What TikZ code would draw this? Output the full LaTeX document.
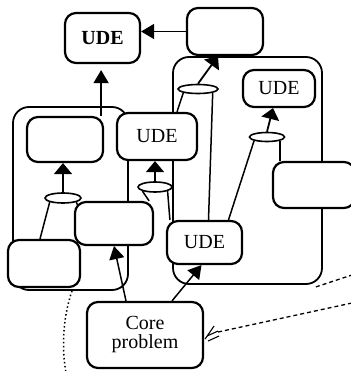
\documentclass[tikz,border=0pt]{standalone}
\usepackage{fontspec}
\setmainfont{Liberation Serif}
\usetikzlibrary{arrows.meta,shapes.geometric,calc}
\begin{document}
\begin{tikzpicture}[x=1pt,y=-1pt,
  box/.style={draw, rounded corners=11pt, line width=2.2pt, fill=white, inner sep=0pt, font=\fontsize{20}{19}\selectfont},
  cont/.style={draw, rounded corners=16pt, line width=1.8pt, inner sep=0pt},
  andop/.style={draw, ellipse, line width=1.6pt, fill=white, inner sep=0pt},
  link/.style={line width=1.5pt},
  cause/.style={line width=1.5pt, -{Triangle[length=13pt,width=15pt]}},
  andarrow/.style={line width=1.8pt, -{Triangle[length=11pt,width=18pt]}},
  dotline/.style={line width=1.5pt, dash pattern=on 1.5pt off 2.5pt},
  dashline/.style={line width=1.3pt, dash pattern=on 4pt off 3pt},
]
\useasboundingbox (0,0) rectangle (350,371);
% containers
\node[cont, minimum width=115pt, minimum height=183pt] (C1) at (70.5,198.5) {};
\node[cont, minimum width=149pt, minimum height=227pt] (C2) at (247.5,170.5) {};
% boxes
\node[box, minimum width=75pt, minimum height=50pt] (topUDE) at (102.5,38) {\bfseries UDE};
\node[box, minimum width=76pt, minimum height=47pt] (topR) at (225,31.5) {};
\node[box, minimum width=76pt, minimum height=45pt] (leftIn) at (65,139.5) {};
\node[box, minimum width=80pt, minimum height=47pt] (midUDE) at (157,136.5) {UDE};
\node[box, minimum width=72pt, minimum height=37pt] (rightUDE) at (279,88.5) {UDE};
\node[box, minimum width=82pt, minimum height=46pt] (rightBox) at (314,185) {};
\node[box, minimum width=78pt, minimum height=43pt] (midLeft) at (114,223.5) {};
\node[box, minimum width=72pt, minimum height=47pt] (botLeft) at (44,263.5) {};
\node[box, minimum width=75pt, minimum height=43pt] (botUDE) at (204.5,242.5) {UDE};
\node[box, minimum width=116pt, minimum height=66pt, align=center] (core) at (145,335) {Core\\problem};
% and-connectors
\node[andop, minimum width=36pt, minimum height=10pt] (E1) at (63,198) {};
\node[andop, minimum width=34pt, minimum height=10pt] (E2) at (155,187) {};
\node[andop, minimum width=40pt, minimum height=9pt] (E3) at (198,89) {};
\node[andop, minimum width=35pt, minimum height=9pt] (E4) at (267,137) {};
% arrows into top UDE
\draw[cause] (topR.west) -- (topR.west -| topUDE.east);
\draw[cause, shorten >=6pt] ([xshift=-3pt]leftIn.north east) -- ([xshift=-3pt]leftIn.north east |- topUDE.south);
% and-arrows
\draw[andarrow] (E1.north) -- (E1.north |- leftIn.south);
\draw[andarrow] (E2.north) -- (E2.north |- midUDE.south);
\draw[andarrow] (E3.north) -- ([xshift=-7pt]topR.south);
\draw[andarrow] (E4.north) -- ([xshift=-6pt]rightUDE.south);
% feeders
\draw[link] ([xshift=-4pt]botLeft.north) -- (E1.south west);
\draw[link] (E1.south east) -- ([xshift=4pt,yshift=-5pt]midLeft.north west);
\draw[link] ([xshift=-5pt]midLeft.north east) -- (E2.south west);
\draw[link] ([xshift=4pt]botUDE.north west) -- (E2.south east);
\draw[link] ([xshift=20pt]midUDE.north) -- (E3.south west);
\draw[link] ([xshift=4pt]botUDE.north) -- (E3.south east);
\draw[link] ([xshift=24pt]botUDE.north) -- (E4.south west);
\draw[link] (E4.south east) -- (E4.south east |- rightBox.north);
% core problem arrows
\draw[cause] ([xshift=-19pt]core.north) -- (midLeft.south);
\draw[cause] ([xshift=27pt]core.north) -- ([xshift=-3pt]botUDE.south);
% dotted / dashed lines
\coordinate (dotEnd) at (66,373);
\coordinate (dashEnd) at (352,303);
\coordinate (dashEndB) at (352,275);
\draw[dotline] ([xshift=1.5pt]C1.south) .. controls (62,320) and (62,350) .. (dotEnd);
\draw[dashline] ([xshift=14pt,yshift=3pt]core.east) -- (dashEnd);
\draw[dashline] ([xshift=-7pt,yshift=-2pt]C2.south east) -- (dashEndB);
% hatch marks at core problem
\draw[line width=1.1pt] ([xshift=1pt,yshift=-4pt]core.east) -- ++(9,-13);
\draw[line width=1.1pt] ([xshift=3pt,yshift=-1pt]core.east) -- ++(11,-5);
\draw[line width=1.1pt] ([xshift=4pt,yshift=-6pt]core.east) -- ++(11,-5);
\end{tikzpicture}
\end{document}
